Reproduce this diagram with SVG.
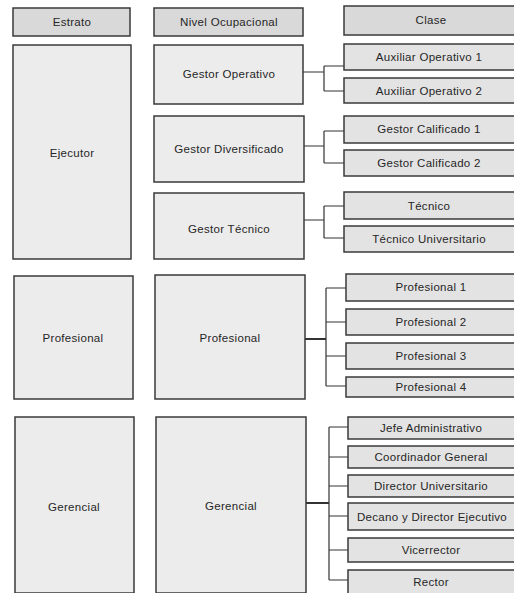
<svg xmlns="http://www.w3.org/2000/svg" width="514" height="593" viewBox="0 0 514 593">
<style>
.bg{fill:#ffffff}
.hd{fill:#d9d9d9;stroke:#3a3a3a;stroke-width:1.5}
.bx{fill:#ececec;stroke:#3a3a3a;stroke-width:1.5}
.cl{fill:#e3e3e3;stroke:#3a3a3a;stroke-width:1.5}
text{font-family:"Liberation Sans",Arial,sans-serif;font-size:11.5px;letter-spacing:0.3px;fill:#262626;text-anchor:middle;dominant-baseline:central}
.ln{fill:none;stroke:#333;stroke-width:1.2}
.lt{fill:none;stroke:#333;stroke-width:2}
</style>
<rect class="bg" x="0" y="0" width="514" height="593"/>
<g id="headers">
<g id="h-estrato"><rect class="hd" x="13" y="8" width="117" height="28"/><text x="72" y="22">Estrato</text></g>
<g id="h-nivel"><rect class="hd" x="154" y="8" width="149" height="28"/><text x="229" y="22">Nivel Ocupacional</text></g>
<g id="h-clase"><rect class="hd" x="344" y="6" width="175" height="29"/><text x="431" y="20">Clase</text></g>
</g>
<g id="connectors">
<path class="ln" d="M303 72H324M324 66V91M324 66H344M324 91H344"/>
<path class="ln" d="M304 146H324M324 131V163M324 131H344M324 163H344"/>
<path class="ln" d="M304 220H324M324 206V238M324 206H344M324 238H344"/>
<path class="lt" d="M305 339H326"/>
<path class="ln" d="M326 288V386M326 288H346M326 322H346M326 356H346M326 386H346"/>
<path class="lt" d="M306 503H329"/>
<path class="ln" d="M329 427V580M329 427H348M329 457H348M329 486H348M329 516H348M329 550H348M329 580H348"/>
</g>
<g id="n-ejecutor"><rect class="bx" x="13" y="45" width="118" height="214"/><text x="72" y="153">Ejecutor</text></g>
<g id="n-profesional-e"><rect class="bx" x="14" y="276" width="119" height="123"/><text x="73" y="338">Profesional</text></g>
<g id="n-gerencial-e"><rect class="bx" x="15" y="417" width="119" height="176"/><text x="74" y="507">Gerencial</text></g>
<g id="n-gestor-operativo"><rect class="bx" x="154" y="45" width="149" height="59"/><text x="229" y="74">Gestor Operativo</text></g>
<g id="n-gestor-diversificado"><rect class="bx" x="154" y="116" width="150" height="66"/><text x="229" y="149">Gestor Diversificado</text></g>
<g id="n-gestor-tecnico"><rect class="bx" x="154" y="193" width="150" height="66"/><text x="229" y="229">Gestor Técnico</text></g>
<g id="n-profesional-n"><rect class="bx" x="155" y="275" width="150" height="124"/><text x="230" y="338">Profesional</text></g>
<g id="n-gerencial-n"><rect class="bx" x="156" y="417" width="150" height="176"/><text x="231" y="506">Gerencial</text></g>
<g id="c-aux1"><rect class="cl" x="344" y="44" width="175" height="26"/><text x="429" y="57">Auxiliar Operativo 1</text></g>
<g id="c-aux2"><rect class="cl" x="344" y="78" width="175" height="25"/><text x="429" y="91">Auxiliar Operativo 2</text></g>
<g id="c-gc1"><rect class="cl" x="344" y="116" width="175" height="27"/><text x="429" y="129">Gestor Calificado 1</text></g>
<g id="c-gc2"><rect class="cl" x="344" y="150" width="175" height="26"/><text x="429" y="163">Gestor Calificado 2</text></g>
<g id="c-tecnico"><rect class="cl" x="344" y="192" width="175" height="27"/><text x="429" y="206">Técnico</text></g>
<g id="c-tecnico-u"><rect class="cl" x="344" y="226" width="175" height="26"/><text x="429" y="239">Técnico Universitario</text></g>
<g id="c-p1"><rect class="cl" x="346" y="274" width="173" height="27"/><text x="431" y="287">Profesional 1</text></g>
<g id="c-p2"><rect class="cl" x="346" y="309" width="173" height="26"/><text x="431" y="322">Profesional 2</text></g>
<g id="c-p3"><rect class="cl" x="346" y="343" width="173" height="26"/><text x="431" y="356">Profesional 3</text></g>
<g id="c-p4"><rect class="cl" x="346" y="377" width="173" height="20"/><text x="431" y="387">Profesional 4</text></g>
<g id="c-ja"><rect class="cl" x="348" y="417" width="171" height="22"/><text x="431" y="428">Jefe Administrativo</text></g>
<g id="c-cg"><rect class="cl" x="348" y="446" width="171" height="22"/><text x="431" y="457">Coordinador General</text></g>
<g id="c-du"><rect class="cl" x="348" y="475" width="171" height="22"/><text x="431" y="486">Director Universitario</text></g>
<g id="c-dde"><rect class="cl" x="348" y="503" width="171" height="27"/><text x="432" y="517">Decano y Director Ejecutivo</text></g>
<g id="c-vice"><rect class="cl" x="348" y="538" width="171" height="24"/><text x="431" y="550">Vicerrector</text></g>
<g id="c-rector"><rect class="cl" x="348" y="570" width="171" height="26"/><text x="431" y="582">Rector</text></g>
</svg>
